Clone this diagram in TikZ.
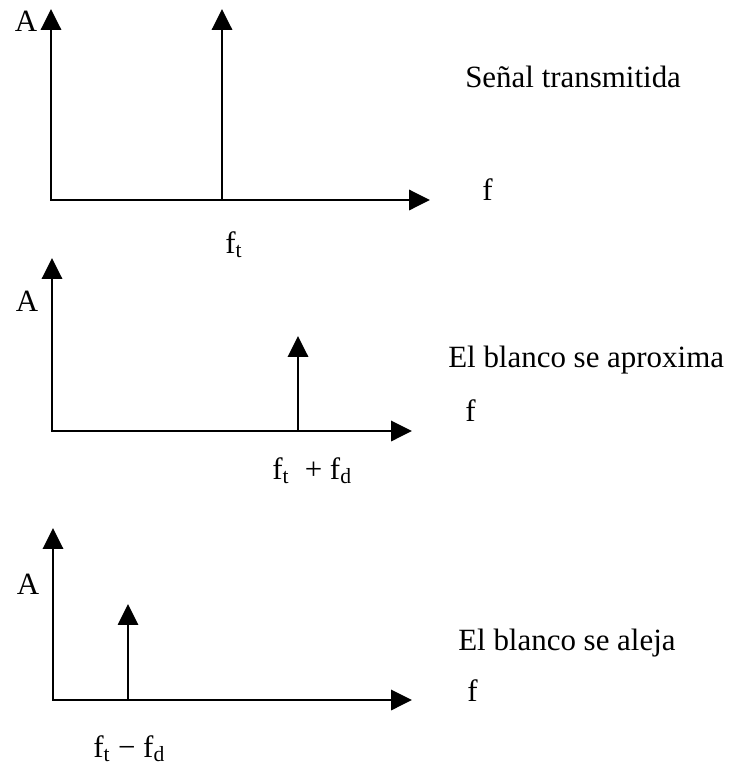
\documentclass[tikz,border=0pt]{standalone}
\usepackage{fontspec}
\setmainfont{Liberation Serif}
\usetikzlibrary{arrows.meta, positioning}
\tikzset{
    axis/.style={draw=black, line width=2.1pt, line cap=rect, -{Triangle[length=0.52cm, width=0.5cm]}},
    spike/.style={draw=black, line width=2.1pt, -{Triangle[length=0.52cm, width=0.5cm]}},
    lbl/.style={inner sep=0pt, font=\fontsize{22}{26}\selectfont},
}

\begin{document}
\begin{tikzpicture}[x=0.025cm, y=-0.025cm]
\useasboundingbox (0,0) rectangle (732,770);
% transmitted signal
\coordinate (o1) at (51,200);
\coordinate (ya1) at (51,9);
\coordinate (xa1) at (430,200);
\coordinate (sp1) at (222,200);
\coordinate (st1) at (222,9);
\draw[axis] (o1) -- (ya1);
\draw[axis] (o1) -- (xa1);
\draw[spike] (sp1) -- (st1);
\node[lbl, anchor=base] (amp1) at (26,31) {A};
\node[lbl, anchor=base west] (ft1) at (225,253) {f\textsubscript{t}};
\node[lbl, anchor=base west] (tx1) at (465,87) {Señal transmitida};
\node[lbl, anchor=base west] (fq1) at (482,200) {f};
% approaching target
\coordinate (o2) at (52,431);
\coordinate (ya2) at (52,258);
\coordinate (xa2) at (412,431);
\coordinate (sp2) at (298,431);
\coordinate (st2) at (298,336);
\draw[axis] (o2) -- (ya2);
\draw[axis] (o2) -- (xa2);
\draw[spike] (sp2) -- (st2);
\node[lbl, anchor=base] (amp2) at (27,311) {A};
\node[lbl, anchor=base west] (ft2) at (272,479) {f\textsubscript{t}\ \ + f\textsubscript{d}};
\node[lbl, anchor=base west] (tx2) at (448,367) {El blanco se aproxima};
\node[lbl, anchor=base west] (fq2) at (465,421) {f};
% receding target
\coordinate (o3) at (53,700);
\coordinate (ya3) at (53,528);
\coordinate (xa3) at (412,700);
\coordinate (sp3) at (128,700);
\coordinate (st3) at (128,604);
\draw[axis] (o3) -- (ya3);
\draw[axis] (o3) -- (xa3);
\draw[spike, line width=1.5pt] (sp3) -- (st3);
\node[lbl, anchor=base] (amp3) at (28,594) {A};
\node[lbl, anchor=base west] (ft3) at (93,757) {f\textsubscript{t} − f\textsubscript{d}};
\node[lbl, anchor=base west] (tx3) at (458,650) {El blanco se aleja};
\node[lbl, anchor=base west] (fq3) at (467,701) {f};
\end{tikzpicture}
\end{document}
